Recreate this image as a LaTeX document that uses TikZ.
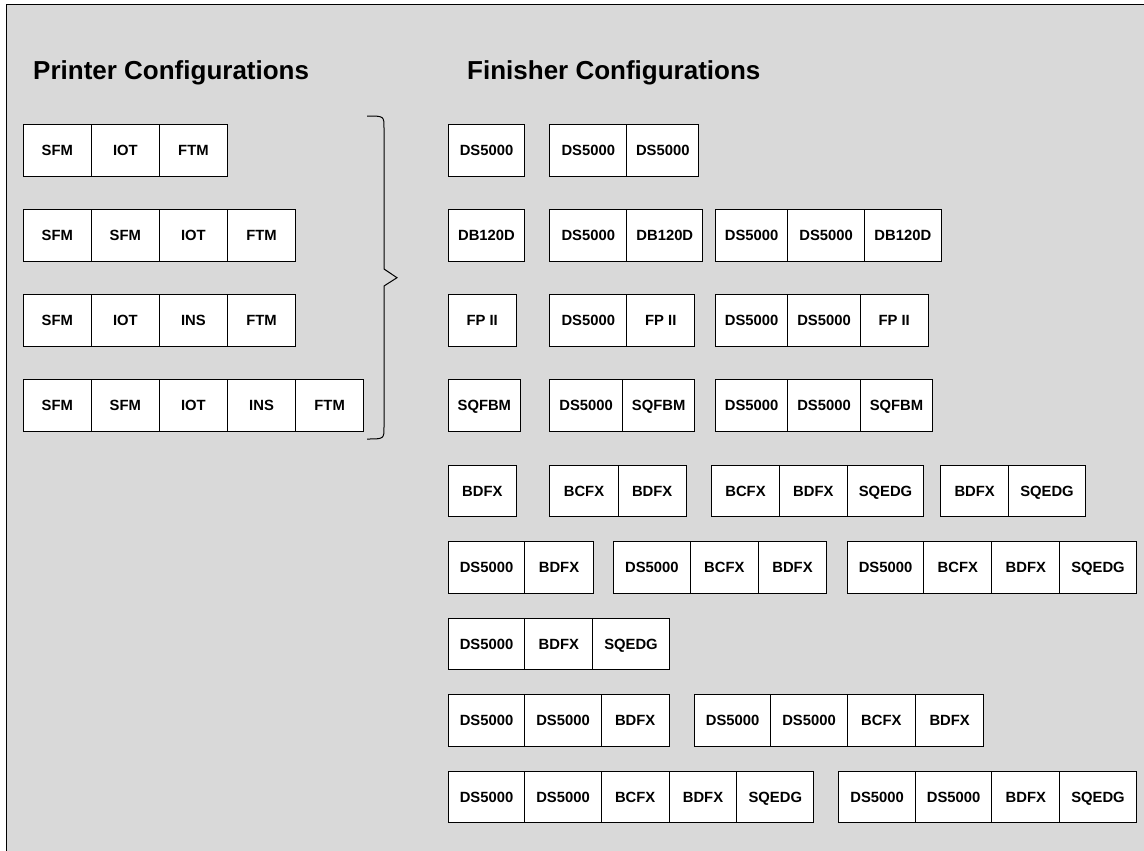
\documentclass[tikz,border=0pt]{standalone}
\usepackage{fontspec}
\setmainfont{Liberation Sans}
\usepackage{xcolor}
\usepackage{tikz}

\definecolor{panelgray}{RGB}{217,217,217}
\tikzset{
  cell/.style={draw=black, line width=1pt, fill=white, anchor=north west, inner sep=0pt,
    minimum height=51.3pt, minimum width=#1pt, text height=10.6pt, text depth=0pt,
    font=\fontsize{14.8}{17}\selectfont\bfseries},
  heading/.style={anchor=base west, inner sep=0pt, font=\fontsize{26}{30}\selectfont\bfseries}
}

\begin{document}
\begin{tikzpicture}[x=1pt, y=-1pt]
 \useasboundingbox (0,0) rectangle (1144,851);
 \fill [white] (0,0) rectangle (1144,851);
 \filldraw [fill=panelgray, draw=black, line width=1pt] (6,5) rectangle (1160,870);
 \node [heading] (ptitle) at (33,79.5) {Printer Configurations};
 \node [heading] (ftitle) at (467,79.5) {Finisher Configurations};
 \node [cell=68.1] (p1a) at (22.7,124.3) {SFM};
 \node [cell=68.1] (p1b) at (90.8,124.3) {IOT};
 \node [cell=68.1] (p1c) at (158.9,124.3) {FTM};
 \node [cell=68.1] (p2a) at (22.7,209.3) {SFM};
 \node [cell=68.1] (p2b) at (90.8,209.3) {SFM};
 \node [cell=68.1] (p2c) at (158.9,209.3) {IOT};
 \node [cell=68.1] (p2d) at (227,209.3) {FTM};
 \node [cell=68.1] (p3a) at (22.7,294.3) {SFM};
 \node [cell=68.1] (p3b) at (90.8,294.3) {IOT};
 \node [cell=68.1] (p3c) at (158.9,294.3) {INS};
 \node [cell=68.1] (p3d) at (227,294.3) {FTM};
 \node [cell=68.1] (p4a) at (22.7,379.3) {SFM};
 \node [cell=68.1] (p4b) at (90.8,379.3) {SFM};
 \node [cell=68.1] (p4c) at (158.9,379.3) {IOT};
 \node [cell=68.1] (p4d) at (227,379.3) {INS};
 \node [cell=68.1] (p4e) at (295.1,379.3) {FTM};
 \draw [line width=1pt] (367,116) .. controls (384,116) .. (384,128) -- (384,269) -- (397,277.7)
   -- (384,286) -- (384,427) .. controls (384,439) .. (367,439);
 \node [cell=76.6] (f1a) at (447.7,124.3) {DS5000};
 \node [cell=77] (f1b) at (549.3,124.3) {DS5000};
 \node [cell=72] (f1c) at (626.3,124.3) {DS5000};
 \node [cell=76.6] (f2a) at (447.7,209.3) {DB120D};
 \node [cell=77] (f2b) at (549.3,209.3) {DS5000};
 \node [cell=76] (f2c) at (626.3,209.3) {DB120D};
 \node [cell=72.3] (f2d) at (715,209.3) {DS5000};
 \node [cell=76.7] (f2e) at (787.3,209.3) {DS5000};
 \node [cell=76.7] (f2f) at (864,209.3) {DB120D};
 \node [cell=68] (f3a) at (447.7,294.3) {FP II};
 \node [cell=77] (f3b) at (549.3,294.3) {DS5000};
 \node [cell=68] (f3c) at (626.3,294.3) {FP II};
 \node [cell=72.3] (f3d) at (715,294.3) {DS5000};
 \node [cell=72.4] (f3e) at (787.3,294.3) {DS5000};
 \node [cell=68] (f3f) at (859.7,294.3) {FP II};
 \node [cell=72.3] (f4a) at (447.7,379.3) {SQFBM};
 \node [cell=72.7] (f4b) at (549.3,379.3) {DS5000};
 \node [cell=72.3] (f4c) at (622,379.3) {SQFBM};
 \node [cell=72.3] (f4d) at (715,379.3) {DS5000};
 \node [cell=72.4] (f4e) at (787.3,379.3) {DS5000};
 \node [cell=72.6] (f4f) at (859.7,379.3) {SQFBM};
 \node [cell=68.3] (f5a) at (447.7,464.7) {BDFX};
 \node [cell=68.4] (f5b) at (549.3,464.7) {BCFX};
 \node [cell=68] (f5c) at (617.7,464.7) {BDFX};
 \node [cell=68] (f5d) at (711,464.7) {BCFX};
 \node [cell=67.7] (f5e) at (779,464.7) {BDFX};
 \node [cell=76.6] (f5f) at (846.7,464.7) {SQEDG};
 \node [cell=67.7] (f5g) at (940.3,464.7) {BDFX};
 \node [cell=77] (f5h) at (1008,464.7) {SQEDG};
 \node [cell=76.6] (f6a) at (447.7,541.3) {DS5000};
 \node [cell=68.4] (f6b) at (524.3,541.3) {BDFX};
 \node [cell=76.7] (f6c) at (613,541.3) {DS5000};
 \node [cell=68.3] (f6d) at (689.7,541.3) {BCFX};
 \node [cell=68] (f6e) at (758,541.3) {BDFX};
 \node [cell=76.6] (f6f) at (846.7,541.3) {DS5000};
 \node [cell=68] (f6g) at (923.3,541.3) {BCFX};
 \node [cell=68] (f6h) at (991.3,541.3) {BDFX};
 \node [cell=76.4] (f6i) at (1059.3,541.3) {SQEDG};
 \node [cell=76.6] (f7a) at (447.7,617.7) {DS5000};
 \node [cell=68] (f7b) at (524.3,617.7) {BDFX};
 \node [cell=76.4] (f7c) at (592.3,617.7) {SQEDG};
 \node [cell=76.6] (f8a) at (447.7,694.3) {DS5000};
 \node [cell=76.4] (f8b) at (524.3,694.3) {DS5000};
 \node [cell=68] (f8c) at (600.7,694.3) {BDFX};
 \node [cell=76.3] (f8d) at (694,694.3) {DS5000};
 \node [cell=76.4] (f8e) at (770.3,694.3) {DS5000};
 \node [cell=68.3] (f8f) at (846.7,694.3) {BCFX};
 \node [cell=68.3] (f8g) at (915,694.3) {BDFX};
 \node [cell=76.6] (f9a) at (447.7,771) {DS5000};
 \node [cell=76.4] (f9b) at (524.3,771) {DS5000};
 \node [cell=68] (f9c) at (600.7,771) {BCFX};
 \node [cell=67.6] (f9d) at (668.7,771) {BDFX};
 \node [cell=77] (f9e) at (736.3,771) {SQEDG};
 \node [cell=76.7] (f9f) at (838.3,771) {DS5000};
 \node [cell=76.3] (f9g) at (915,771) {DS5000};
 \node [cell=68] (f9h) at (991.3,771) {BDFX};
 \node [cell=76.4] (f9i) at (1059.3,771) {SQEDG};
\end{tikzpicture}
\end{document}
